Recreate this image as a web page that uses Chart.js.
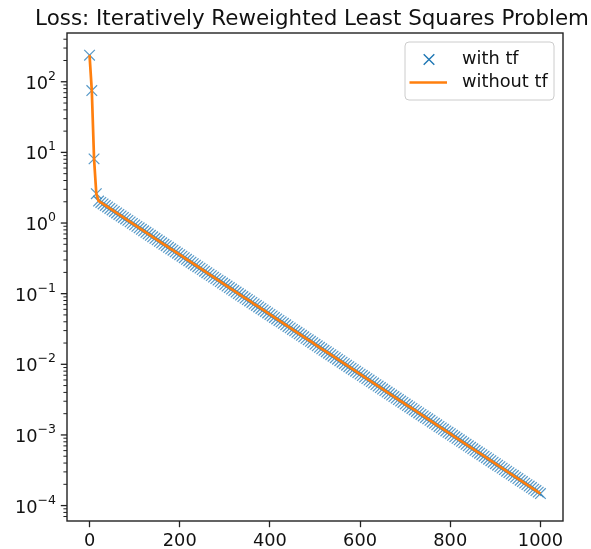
<!DOCTYPE html>
<html>
<head>
<meta charset="utf-8">
<script src="https://cdn.jsdelivr.net/npm/chart.js@4.4.1/dist/chart.umd.min.js"></script>
<style>
  body { margin: 0; background: #fff; }
  #wrap { width: 591px; height: 549px; }
</style>
</head>
<body>
<div id="wrap"><canvas id="chart" width="591" height="549"></canvas></div>
<script>
// loss per iteration (every 5 iterations)
const loss = [
  238, 75, 8.1, 2.6,
  2.05, 1.954, 1.861, 1.773, 1.689, 1.608, 1.532, 1.459, 1.390, 1.324,
  1.261, 1.201, 1.144, 1.090, 1.038, 0.989, 0.942, 0.897, 0.855, 0.814,
  0.775, 0.738, 0.703, 0.670, 0.638, 0.608, 0.579, 0.551, 0.525, 0.500,
  0.477, 0.454, 0.432, 0.412, 0.392, 0.374, 0.356, 0.339, 0.323, 0.307,
  0.293, 0.279, 0.266, 0.253, 0.241, 0.230, 0.219, 0.208, 0.198, 0.189,
  0.180, 0.1715, 0.1633, 0.1556, 0.1483, 0.1412, 0.1345, 0.1281, 0.1221, 0.1162,
  0.1107, 0.1055, 0.1004, 0.0957, 0.0911, 0.0868, 0.0827, 0.0788, 0.0750, 0.0714,
  0.0681, 0.0648, 0.0617, 0.0588, 0.0560, 0.0534, 0.0508, 0.0484, 0.0461, 0.0439,
  0.0418, 0.0399, 0.0380, 0.0362, 0.0344, 0.0328, 0.0312, 0.0298, 0.0284, 0.0270,
  0.0257, 0.0245, 0.0233, 0.0222, 0.0212, 0.0202, 0.0192, 0.0183, 0.0174, 0.0166,
  0.0158, 0.01506, 0.01435, 0.01367, 0.01302, 0.01240, 0.01181, 0.01125, 0.01072, 0.01020,
  0.00972, 0.00926, 0.00882, 0.00840, 0.00800, 0.00762, 0.00726, 0.00692, 0.00659, 0.00627,
  0.00598, 0.00569, 0.00542, 0.00516, 0.00492, 0.00468, 0.00446, 0.00425, 0.00405, 0.00386,
  0.00367, 0.00350, 0.00333, 0.00317, 0.00302, 0.00288, 0.00274, 0.00261, 0.00249, 0.00237,
  0.00226, 0.00215, 0.00205, 0.00195, 0.00186, 0.00177, 0.00169, 0.00161, 0.00153, 0.00146,
  0.00139, 0.00132, 0.00126, 0.00120, 0.00114, 0.00109, 0.00104, 0.000988, 0.000941, 0.000896,
  0.000853, 0.000813, 0.000774, 0.000738, 0.000703, 0.000669, 0.000637, 0.000607, 0.000578, 0.000551,
  0.000525, 0.000500, 0.000476, 0.000453, 0.000432, 0.000411, 0.000392, 0.000373, 0.000356, 0.000339,
  0.000323, 0.000307, 0.000293, 0.000279, 0.000266, 0.000253, 0.000241, 0.000229, 0.000219, 0.000208,
  0.000198, 0.000189, 0.000180, 0.000171, 0.000163, 0.000155, 0.000148
];
const iterStep = 5;
const iterations = loss.map((_, i) => i * iterStep);

const xTicks = [0, 200, 400, 600, 800, 1000];
const yExponents = [-4, -3, -2, -1, 0, 1, 2];
const seriesNames = ['with tf', 'without tf'];
const titleText = 'Loss: Iteratively Reweighted Least Squares Problem';

const FONT = 'DejaVu Sans';
const TICK_SIZE = 17.8;
const EXP_SIZE = 12.5;
const BLUE = '#1f77b4';
const ORANGE = '#ff7f0e';
const INK = '#111';

const points = iterations.map((x, i) => ({ x: x, y: loss[i] }));

function expText(e) {
  return e < 0 ? '\u2212' + (-e) : String(e);
}

function drawCross(ctx, cx, cy, r) {
  const d = r * Math.SQRT1_2;
  ctx.beginPath();
  ctx.moveTo(cx - d, cy - d); ctx.lineTo(cx + d, cy + d);
  ctx.moveTo(cx + d, cy - d); ctx.lineTo(cx - d, cy + d);
  ctx.stroke();
}

// title, frame, log ticks with 10^n labels, legend box
const decorations = {
  id: 'decorations',
  afterDraw(chart) {
    const { ctx, chartArea: a, scales: { y } } = chart;
    ctx.save();

    // title (wider than the axes, like matplotlib)
    ctx.fillStyle = INK;
    ctx.font = '21.4px "' + FONT + '"';
    ctx.textAlign = 'center';
    ctx.textBaseline = 'alphabetic';
    ctx.fillText(titleText, (a.left + a.right) / 2 - 3, 25);

    // y ticks
    ctx.strokeStyle = '#222';
    y.ticks.forEach(t => {
      const py = y.getPixelForValue(t.value);
      if (py < a.top - 0.5 || py > a.bottom + 0.5) return;
      ctx.lineWidth = t.major ? 1.3 : 1.0;
      const len = t.major ? 6.2 : 3.6;
      ctx.beginPath();
      ctx.moveTo(a.left, py);
      ctx.lineTo(a.left - len, py);
      ctx.stroke();
    });

    // y labels 10^n
    ctx.textAlign = 'left';
    yExponents.forEach(e => {
      const py = y.getPixelForValue(Math.pow(10, e));
      const et = expText(e);
      ctx.font = EXP_SIZE + 'px "' + FONT + '"';
      const ew = ctx.measureText(et).width;
      ctx.font = TICK_SIZE + 'px "' + FONT + '"';
      const bw = ctx.measureText('10').width;
      const right = a.left - 11;
      ctx.fillText('10', right - ew - bw, py + 7);
      ctx.font = EXP_SIZE + 'px "' + FONT + '"';
      ctx.fillText(et, right - ew, py - 2);
    });

    // frame
    ctx.strokeStyle = '#222';
    ctx.lineWidth = 1.4;
    ctx.strokeRect(a.left, a.top, a.right - a.left, a.bottom - a.top);

    // legend
    const lx = a.right - 158, ly = a.top + 9, lw = 149, lh = 58;
    ctx.beginPath();
    ctx.roundRect(lx, ly, lw, lh, 4);
    ctx.fillStyle = 'rgba(255,255,255,0.8)';
    ctx.fill();
    ctx.strokeStyle = '#cccccc';
    ctx.lineWidth = 1;
    ctx.stroke();

    const row1 = ly + 17.5, row2 = ly + 40.5;
    ctx.strokeStyle = BLUE;
    ctx.lineWidth = 1.4;
    drawCross(ctx, lx + 24, row1, 7.5);
    ctx.strokeStyle = ORANGE;
    ctx.lineWidth = 2.7;
    ctx.beginPath();
    ctx.moveTo(lx + 4.5, row2);
    ctx.lineTo(lx + 42, row2);
    ctx.stroke();

    ctx.fillStyle = INK;
    ctx.font = TICK_SIZE + 'px "' + FONT + '"';
    ctx.textBaseline = 'middle';
    ctx.fillText(seriesNames[0], lx + 57, row1);
    ctx.fillText(seriesNames[1], lx + 57, row2);

    ctx.restore();
  }
};

new Chart(document.getElementById('chart'), {
  type: 'scatter',
  data: {
    datasets: [{
      label: seriesNames[1],
      data: points,
      showLine: true,
      borderColor: ORANGE,
      borderWidth: 2.7,
      pointRadius: 0,
      pointHoverRadius: 0,
      fill: false,
      order: 0
    }, {
      label: seriesNames[0],
      data: points,
      pointStyle: 'crossRot',
      pointRadius: 7.5,
      pointBorderColor: 'rgba(31,119,180,0.75)',
      pointBackgroundColor: BLUE,
      pointBorderWidth: 1.2,
      order: 1
    }]
  },
  options: {
    responsive: false,
    animation: false,
    layout: {
      padding: { left: 0, right: 28, top: 33, bottom: 0 }
    },
    plugins: {
      legend: { display: false },
      tooltip: { enabled: false },
      title: { display: false }
    },
    scales: {
      x: {
        type: 'linear',
        bounds: 'data',
        min: -50,
        max: 1050,
        afterBuildTicks: s => { s.ticks = xTicks.map(v => ({ value: v })); },
        afterFit: s => { s.height = 28; },
        border: { display: false },
        grid: {
          display: true,
          drawOnChartArea: false,
          drawTicks: true,
          tickLength: 6.2,
          tickColor: '#222',
          tickWidth: 1.3
        },
        ticks: {
          autoSkip: false,
          maxRotation: 0,
          padding: 4,
          color: INK,
          font: { family: FONT, size: TICK_SIZE },
          callback: v => String(v)
        }
      },
      y: {
        type: 'logarithmic',
        bounds: 'data',
        min: 6.05e-5,
        max: 490,
        afterBuildTicks: s => {
          const ticks = [];
          for (let e = -5; e <= 2; e++) {
            for (let m = 1; m <= 9; m++) {
              const v = m * Math.pow(10, e);
              if (v >= s.min && v <= s.max) ticks.push({ value: v, major: m === 1 });
            }
          }
          s.ticks = ticks;
        },
        afterFit: s => { s.width = 67; },
        border: { display: false },
        grid: { display: false },
        ticks: { display: false, autoSkip: false }
      }
    }
  },
  plugins: [decorations]
});
</script>
</body>
</html>
